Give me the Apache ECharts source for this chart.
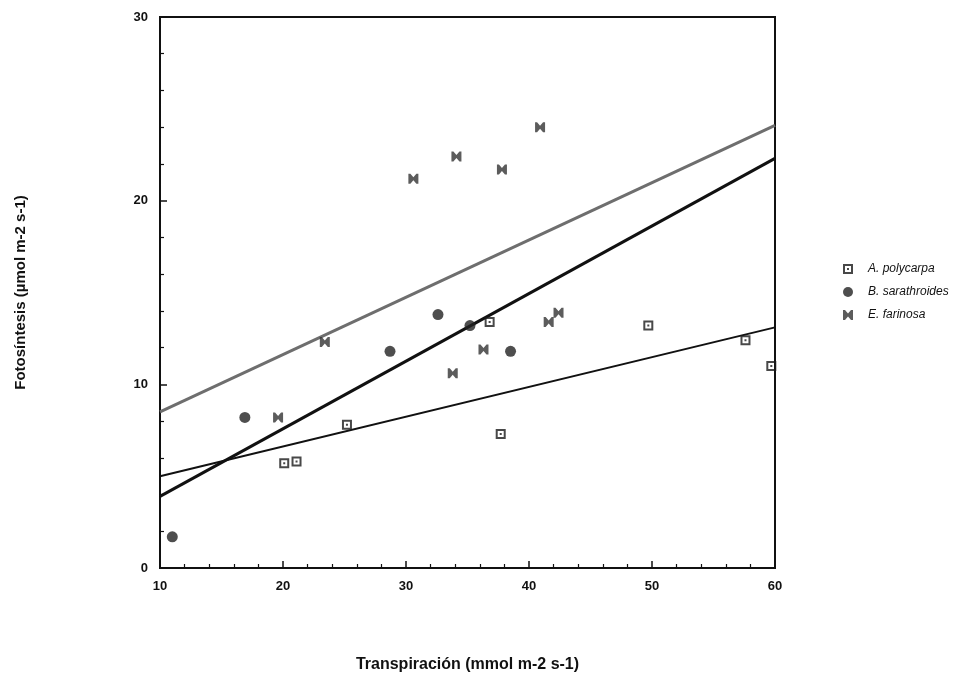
<!DOCTYPE html>
<html><head><meta charset="utf-8">
<script src="https://cdn.jsdelivr.net/npm/echarts@6/dist/echarts.min.js"></script>
<style>html,body{margin:0;padding:0;background:#fff}#c{width:980px;height:675px}</style>
</head><body><div id="c"></div>
<script>
// Data: [Transpiración, Fotosíntesis]
const seriesNames = ['A. polycarpa', 'B. sarathroides', 'E. farinosa'];
const polycarpa = [[20.1,5.7],[21.1,5.8],[25.2,7.8],[36.8,13.4],[37.7,7.3],[49.7,13.2],[57.6,12.4],[59.7,11.0]];
const sarathroides = [[11.0,1.7],[16.9,8.2],[28.7,11.8],[32.6,13.8],[35.2,13.2],[38.5,11.8]];
const farinosa = [[30.6,21.2],[34.1,22.4],[37.8,21.7],[40.9,24.0],[23.4,12.3],[19.6,8.2],[33.8,10.6],[36.3,11.9],[41.6,13.4],[42.4,13.9]];
// Regression lines (endpoints at x = 10 and x = 60)
const fitPolycarpa = [[10,5.0],[60,13.1]];
const fitSarathroides = [[10,3.9],[60,22.3]];
const fitFarinosa = [[10,8.5],[60,24.1]];
const xTicks = [10,20,30,40,50,60];
const yTicks = [0,10,20,30];

const sqPath = 'path://M0,0H10V10H0Z M2,2V8H8V2Z M4,4H6V6H4Z';
const bowPath = 'path://M0,0H2L5,3.5L8,0H10V10H8L5,6.5L2,10H0Z';

const chart = echarts.init(document.getElementById('c'), null, {renderer:'canvas'});
const lbl = {color:'#111', fontFamily:'Liberation Sans, Arial', fontWeight:'bold', fontSize:13};
chart.setOption({
  animation:false,
  backgroundColor:'#fff',
  grid:{left:160, top:17, width:615, height:551, show:true, borderColor:'#111', borderWidth:2, backgroundColor:'transparent', containLabel:false, outerBoundsMode:'none'},
  xAxis:{type:'value', min:xTicks[0], max:xTicks[xTicks.length-1], interval:10,
    name:'Transpiración (mmol m-2 s-1)', nameLocation:'middle', nameGap:89,
    nameTextStyle:{color:'#111', fontFamily:'Liberation Sans, Arial', fontWeight:'bold', fontSize:16},
    axisLine:{lineStyle:{color:'#111', width:2}},
    axisTick:{inside:true, length:7, lineStyle:{color:'#111', width:1.5}},
    minorTick:{show:true, splitNumber:5, length:4, lineStyle:{color:'#111', width:1.2}},
    axisLabel:Object.assign({margin:12}, lbl), splitLine:{show:false}},
  yAxis:{type:'value', min:yTicks[0], max:yTicks[yTicks.length-1], interval:10,
    name:'Fotosíntesis (µmol m-2 s-1)', nameLocation:'middle', nameGap:132, nameRotate:90,
    nameTextStyle:{color:'#111', fontFamily:'Liberation Sans, Arial', fontWeight:'bold', fontSize:15},
    axisLine:{lineStyle:{color:'#111', width:2}},
    axisTick:{inside:true, length:7, lineStyle:{color:'#111', width:1.5}},
    minorTick:{show:true, splitNumber:5, length:4, lineStyle:{color:'#111', width:1.2}},
    axisLabel:Object.assign({margin:12}, lbl), splitLine:{show:false}},
  legend:{data:seriesNames, orient:'vertical', left:838, top:258, itemGap:11, itemWidth:10, itemHeight:10,
    textStyle:{color:'#111', fontFamily:'Liberation Sans, Arial', fontStyle:'italic', fontSize:12, padding:[0,0,0,10]}},
  series:[
    {type:'line', data:fitFarinosa, showSymbol:false, lineStyle:{color:'#6e6e6e', width:3}, z:2, silent:true},
    {type:'line', data:fitSarathroides, showSymbol:false, lineStyle:{color:'#111', width:3}, z:2, silent:true},
    {type:'line', data:fitPolycarpa, showSymbol:false, lineStyle:{color:'#111', width:2}, z:2, silent:true},
    {name:seriesNames[0], type:'scatter', data:polycarpa, symbol:sqPath, symbolSize:10, itemStyle:{color:'#1a1a1a'}, z:3},
    {name:seriesNames[1], type:'scatter', data:sarathroides, symbol:'circle', symbolSize:11, itemStyle:{color:'#222'}, z:3},
    {name:seriesNames[2], type:'scatter', data:farinosa, symbol:bowPath, symbolSize:10, itemStyle:{color:'#333'}, z:3}
  ]
});
</script></body></html>
